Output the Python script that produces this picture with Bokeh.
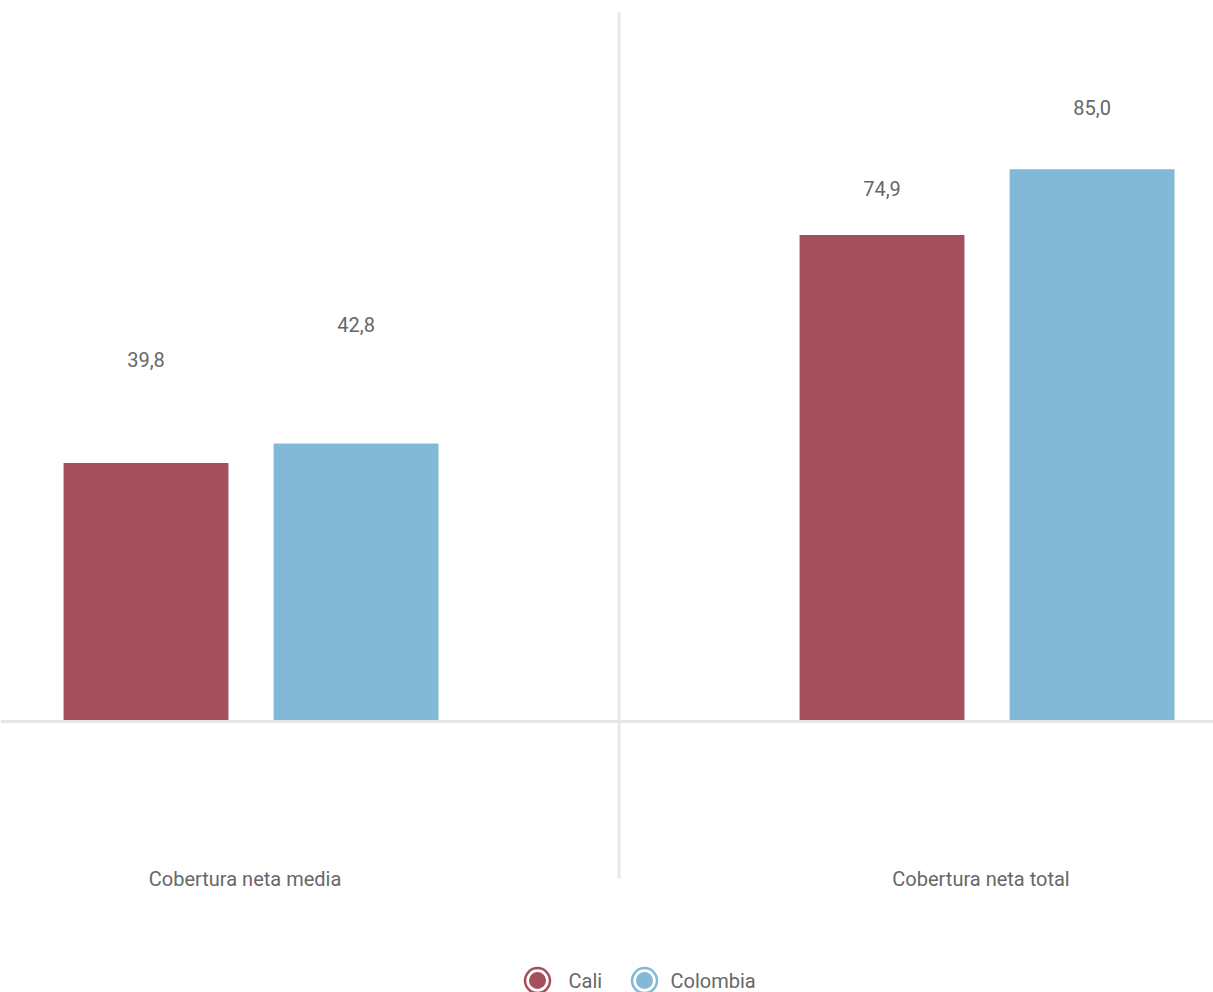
from bokeh.plotting import figure
from bokeh.models import Range1d, ColumnDataSource, Span
from bokeh.embed import file_html
from bokeh.resources import INLINE
from bokeh.core.properties import value

categories = ["Cobertura neta media", "Cobertura neta total"]
series = ["Cali", "Colombia"]
cali = [39.8, 74.9]
colombia = [42.8, 85.0]
colors = ["#a64f5c", "#82b9d7"]

# label offsets above bar tops (px), as seen in the reference
label_offsets = {"Cali": [103, 46], "Colombia": [119, 62]}

W, H = 1213, 992
X0, X1 = -0.3404, 1.3077
FONT = value("Roboto")
TXT = "#676767"

p = figure(width=W, height=H, output_backend="svg", toolbar_location=None,
           x_range=Range1d(X0, X1), y_range=Range1d(-41.73, 111.0),
           min_border=0, outline_line_color=None)
p.axis.visible = False
p.grid.visible = False
p.background_fill_color = "white"
p.border_fill_color = "white"

# baseline and separator
p.add_layout(Span(location=0, dimension="width", line_color="#e6e6e6", line_width=3))
p.segment(x0=[0.5], y0=[-24.2], x1=[0.5], y1=[109.2], line_color="#e8e8e8", line_width=3)

bar_w = 0.224
offs = [-0.1427, 0.1427]
for s, vals, col, off in zip(series, [cali, colombia], colors, offs):
    xs = [i + off for i in range(len(categories))]
    src = ColumnDataSource(dict(x=xs, top=vals,
                                lab=[f"{v:.1f}".replace(".", ",") for v in vals],
                                yo=[-o for o in label_offsets[s]]))
    p.vbar(x="x", top="top", bottom=0, width=bar_w, source=src, fill_color=col, line_color=None)
    p.text(x="x", y="top", text="lab", y_offset="yo", source=src, text_align="center",
           text_baseline="middle", text_font=FONT, text_font_size="20px", text_color=TXT)

# category labels
p.text(x=list(range(len(categories))), y=[-24.3] * len(categories), text=categories,
       x_offset=-6, text_align="center", text_baseline="middle", text_font=FONT,
       text_font_size="20px", text_color=TXT)

# manual legend
def px2x(px):
    return px * (X1 - X0) / W + X0

ly = -39.9
leg_marker_px = [537, 644]
leg_text_px = [568, 670]
for s, col, mx, tx in zip(series, colors, leg_marker_px, leg_text_px):
    p.scatter(x=[px2x(mx)], y=[ly], size=25, marker="circle", fill_color="white",
              line_color=col, line_width=2.5)
    p.scatter(x=[px2x(mx)], y=[ly], size=17, marker="circle", fill_color=col, line_color=None)
    p.text(x=[px2x(tx)], y=[ly], text=[s], text_align="left", text_baseline="middle",
           text_font=FONT, text_font_size="20px", text_color=TXT)

open("out.html", "w").write(file_html(p, INLINE))
